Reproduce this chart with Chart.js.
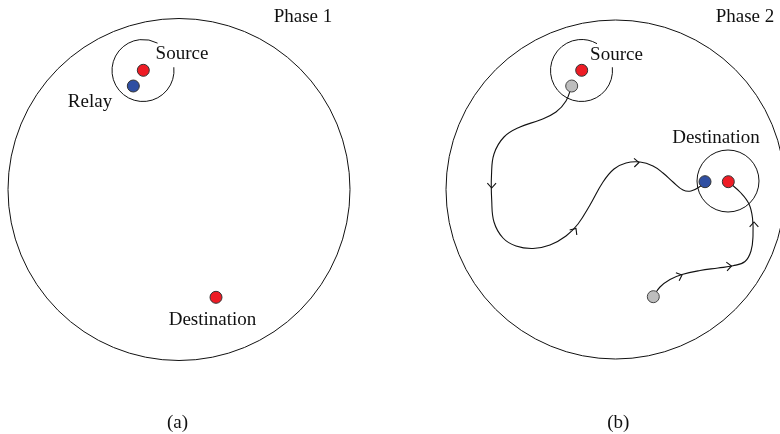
<!DOCTYPE html>
<html>
<head>
<meta charset="utf-8">
<script src="https://cdn.jsdelivr.net/npm/chart.js@4/dist/chart.umd.min.js"></script>
<style>
html,body{margin:0;padding:0;background:#fff;}
#wrap{width:780px;height:434px;}
</style>
</head>
<body>
<div id="wrap"><canvas id="c" width="780" height="434"></canvas></div>
<script>
// ---- data (diagram coordinates) ----
const regionX = [179, 615.5];
const regionY = [189.5, 189.5];
const regionR = [171, 169.5];

const ringX = [143, 581.5, 728];
const ringY = [70.5, 70.5, 181];
const ringR = 31;
const ringGapStart = [-62, -60, 0];   // degrees
const ringGapEnd   = [-6, -6, 0];

const redX = [143.3, 216, 581.7, 728.3];
const redY = [70.3, 297.3, 70.3, 181.7];
const blueX = [133.3, 705];
const blueY = [86, 181.7];
const grayX = [571.7, 653.3];
const grayY = [86, 296.7];

const path1X = [571.7, 566, 556, 540, 520, 504, 494, 491.5, 491.7, 494, 503, 516, 533, 550, 566, 578, 590, 603, 614, 626, 640, 653, 663, 673, 683, 691, 700, 705];
const path1Y = [86, 101, 112, 120, 127, 137, 154, 175, 200, 222, 238, 246, 248.5, 245, 236, 224, 205, 182, 169, 163, 162, 166, 173, 182, 190, 191, 186.5, 181.7];
const path2X = [653.3, 660, 670, 682, 700, 718, 733, 745, 751, 753, 752.5, 749, 741, 728.3];
const path2Y = [296.7, 287, 279.5, 274.5, 270.5, 268, 265.8, 261.5, 251, 236, 218, 204, 193, 181.7];

const arrowX = [491.7, 576, 639, 682, 731.5, 754];
const arrowY = [188, 228.5, 162.5, 275, 266, 222];
const arrowDeg = [90, -55, -2, -22, -5, -90];

const labelText = ["Phase 1", "Source", "Relay", "Destination", "(a)", "Phase 2", "Source", "Destination", "(b)"];
const labelX = [303, 182, 90, 212.5, 177.5, 745, 616.5, 716, 618.3];
const labelY = [17, 54, 102, 320, 423, 17, 55, 138.5, 423];

// ---- build chart ----
const pts = (xs, ys) => xs.map((x, i) => ({x: x, y: ys[i]}));

const overlay = {
  id: 'overlay',
  afterDatasetsDraw(chart) {
    const ctx = chart.ctx, sx = chart.scales.x, sy = chart.scales.y;
    ctx.save();
    // rings (with gap)
    ctx.strokeStyle = '#111';
    ctx.lineWidth = 1;
    for (let i = 0; i < ringX.length; i++) {
      const cx = sx.getPixelForValue(ringX[i]);
      const cy = sy.getPixelForValue(ringY[i]);
      const r = sx.getPixelForValue(ringX[i] + ringR) - cx;
      ctx.beginPath();
      if (ringGapStart[i] === ringGapEnd[i]) {
        ctx.arc(cx, cy, r, 0, Math.PI * 2);
      } else {
        ctx.arc(cx, cy, r, ringGapEnd[i] * Math.PI / 180, (ringGapStart[i] + 360) * Math.PI / 180);
      }
      ctx.stroke();
    }
    // arrows (open chevrons)
    ctx.lineWidth = 1.1;
    for (let i = 0; i < arrowX.length; i++) {
      const px = sx.getPixelForValue(arrowX[i]);
      const py = sy.getPixelForValue(arrowY[i]);
      const a = arrowDeg[i] * Math.PI / 180;
      const L = 6.5, spread = 42 * Math.PI / 180;
      ctx.beginPath();
      ctx.moveTo(px - L * Math.cos(a - spread), py - L * Math.sin(a - spread));
      ctx.lineTo(px, py);
      ctx.lineTo(px - L * Math.cos(a + spread), py - L * Math.sin(a + spread));
      ctx.stroke();
    }
    // labels
    ctx.fillStyle = '#111';
    ctx.font = '19px "Liberation Serif", "Times New Roman", serif';
    ctx.textAlign = 'center';
    ctx.textBaseline = 'middle';
    for (let i = 0; i < labelText.length; i++) {
      ctx.fillText(labelText[i], sx.getPixelForValue(labelX[i]), sy.getPixelForValue(labelY[i]));
    }
    ctx.restore();
  }
};

new Chart(document.getElementById('c'), {
  type: 'scatter',
  data: {
    datasets: [
      { label: 'red', data: pts(redX, redY), pointRadius: 6, pointBackgroundColor: '#ee1c25', pointBorderColor: '#333', pointBorderWidth: 1, order: 0, clip: false },
      { label: 'blue', data: pts(blueX, blueY), pointRadius: 6, pointBackgroundColor: '#2f4fa2', pointBorderColor: '#333', pointBorderWidth: 1, order: 0, clip: false },
      { label: 'gray', data: pts(grayX, grayY), pointRadius: 6, pointBackgroundColor: '#bdbdbd', pointBorderColor: '#444', pointBorderWidth: 1, order: 0, clip: false },
      { label: 'path1', data: pts(path1X, path1Y), showLine: true, tension: 0.4, borderColor: '#111', borderWidth: 1.1, pointRadius: 0, order: 1, clip: false },
      { label: 'path2', data: pts(path2X, path2Y), showLine: true, tension: 0.4, borderColor: '#111', borderWidth: 1.1, pointRadius: 0, order: 1, clip: false },
      { label: 'region', data: pts(regionX, regionY), pointRadius: regionR, pointBackgroundColor: 'rgba(0,0,0,0)', pointBorderColor: '#111', pointBorderWidth: 1, order: 2, clip: false }
    ]
  },
  options: {
    responsive: false,
    animation: false,
    events: [],
    layout: { padding: 0, autoPadding: false },
    plugins: { legend: { display: false }, tooltip: { enabled: false } },
    scales: {
      x: { type: 'linear', min: 0, max: 780, display: false },
      y: { type: 'linear', min: 0, max: 434, reverse: true, display: false }
    }
  },
  plugins: [overlay]
});
</script>
</body>
</html>
